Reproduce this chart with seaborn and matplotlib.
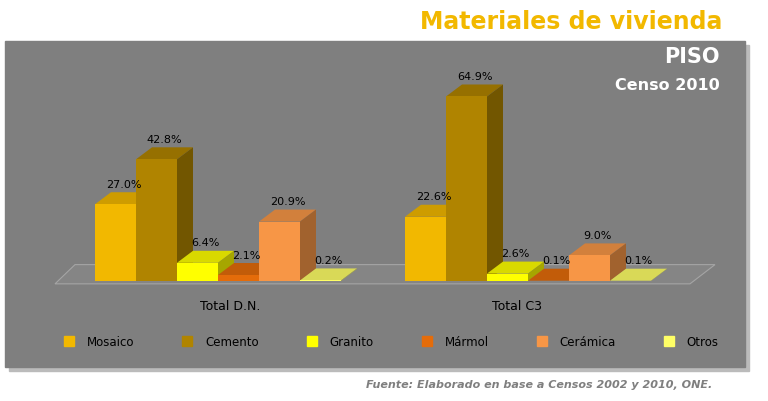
import matplotlib
matplotlib.use("Agg")
import matplotlib.pyplot as plt
import seaborn as sns
import pandas as pd
from matplotlib.patches import Polygon, Rectangle
from matplotlib.lines import Line2D

groups = ["Total D.N.", "Total C3"]
materials = ["Mosaico", "Cemento", "Granito", "Mármol", "Cerámica", "Otros"]
dn_values = [27.0, 42.8, 6.4, 2.1, 20.9, 0.2]
c3_values = [22.6, 64.9, 2.6, 0.1, 9.0, 0.1]
colors = ["#F2B800", "#B08400", "#FFFF00", "#E46C0A", "#F79646", "#FFFF66"]

df = pd.DataFrame({
    "grupo": [groups[0]] * 6 + [groups[1]] * 6,
    "material": materials * 2,
    "valor": dn_values + c3_values,
})

sns.set_theme(style="white")
plt.rcParams['font.family'] = ['DejaVu Sans']
fig = plt.figure(figsize=(7.68, 4.02), dpi=100)
W, H = 768, 402
bg = "#7F7F7F"
fig.patches.append(Rectangle((9/W, 1-372/H), 740/W, 326/H, transform=fig.transFigure, color="#BBBBBB", zorder=-20))
fig.patches.append(Rectangle((5/W, 1-368/H), 740/W, 326/H, transform=fig.transFigure, color=bg, zorder=-10))

U = 310.0
ax = fig.add_axes([60/W, 1-282/H, 640/W, 199/H])
ax.set_facecolor("none")
sns.barplot(data=df, x="grupo", y="valor", hue="material", palette=colors,
            width=246/U, ax=ax, legend=False, saturation=1, edgecolor="none")
x0 = -(218-60)/U
x1 = 1 + (700-528)/U
ax.set_xlim(x0, x1)
ax.set_ylim(0, 70)
dx, dy = 16/U, 12/2.84

def shade(c, f):
    r, g, b = matplotlib.colors.to_rgb(c)
    return (r*f, g*f, b*f)

patches = sorted(list(ax.patches), key=lambda p: p.get_x())

fl = Polygon([(x0-5/U, -1.0), (x1-10/U, -1.0), (x1+15/U, -1+dy*1.6), (x0+15/U, -1+dy*1.6)],
             closed=True, facecolor="#858585", edgecolor="#A5A5A5", lw=0.8, zorder=0, clip_on=False)
ax.add_patch(fl)

for p in patches:
    x, w, h = p.get_x(), p.get_width(), p.get_height()
    c = p.get_facecolor()
    p.set_zorder(3)
    top = Polygon([(x, h), (x+w, h), (x+w+dx, h+dy), (x+dx, h+dy)], closed=True,
                  facecolor=shade(c, 0.85), edgecolor="none", zorder=2, clip_on=False)
    side = Polygon([(x+w, 0), (x+w+dx, dy), (x+w+dx, h+dy), (x+w, h)], closed=True,
                   facecolor=shade(c, 0.65), edgecolor="none", zorder=2, clip_on=False)
    ax.add_patch(top); ax.add_patch(side)
    ax.text(x+w/2+dx/2, h+dy+1.2, f"{h:.1f}%", ha="center", va="bottom", fontsize=8, color="black", zorder=5)

ax.set_xticks([])
ax.set_yticks([])
ax.set_xlabel(""); ax.set_ylabel("")
for s in ax.spines.values():
    s.set_visible(False)
label_shift = [12/U, -11/U]
for i, g in enumerate(groups):
    ax.text(i+label_shift[i], -6.5, g, ha="center", va="top", fontsize=9, color="black")

handles = [Line2D([], [], marker="s", ls="none", color=c, markersize=6.5) for c in colors]
fig.legend(handles, materials, loc="center", bbox_to_anchor=(388/W, 1-343/H), ncol=6,
           frameon=False, fontsize=8.5, columnspacing=3.5, handletextpad=0.5, labelcolor="black")

fig.text(722/W, 1-22/H, "Materiales de vivienda", ha="right", va="center", fontsize=17,
         fontweight="bold", color="#F2B800")
fig.text(720/W, 1-57/H, "PISO", ha="right", va="center", fontsize=15, fontweight="bold", color="white")
fig.text(720/W, 1-86/H, "Censo 2010", ha="right", va="center", fontsize=11.5, fontweight="bold", color="white")
fig.text(712/W, 1-385/H, "Fuente: Elaborado en base a Censos 2002 y 2010, ONE.", ha="right", va="center",
         fontsize=8, style="italic", fontweight="bold", color="#7F7F7F")

fig.savefig("out.png", dpi=100, facecolor="white")
